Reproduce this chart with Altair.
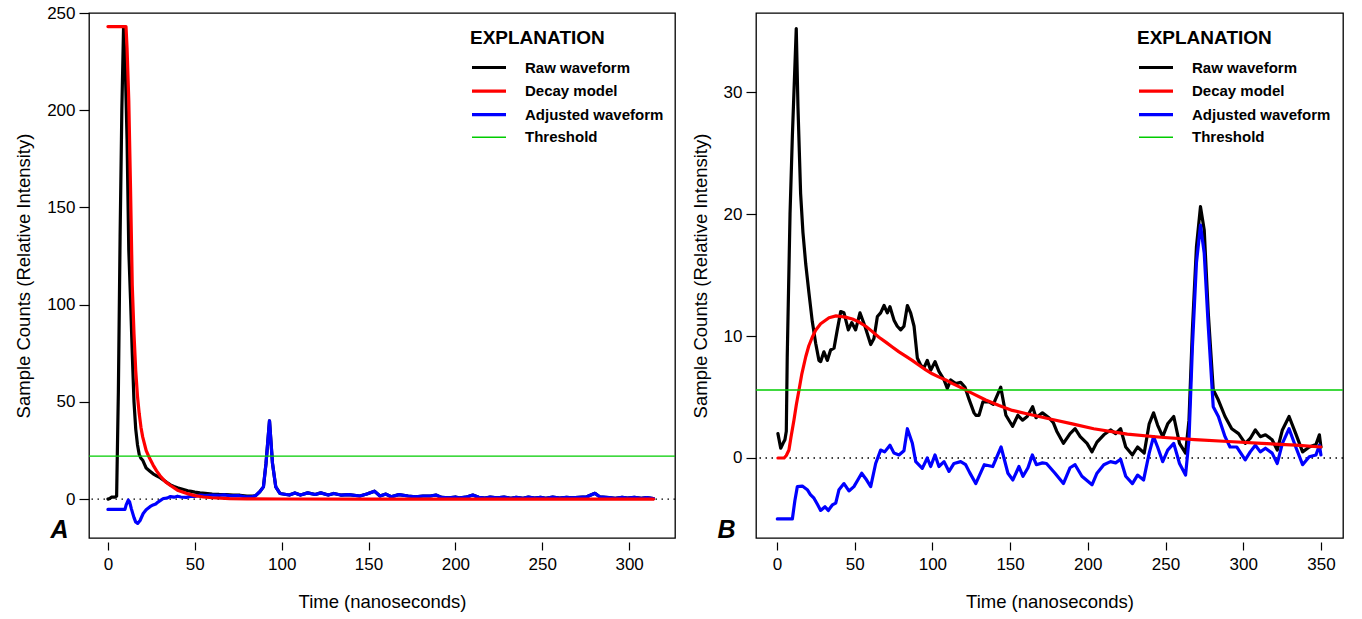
import altair as alt
import pandas as pd

SERIES = ["Raw waveform", "Decay model", "Adjusted waveform", "Threshold"]
COLORS = ["#000000", "#FF0000", "#0000FF", "#00CC00"]
WIDTHS = [3.2, 3.2, 3.2, 1.4]
FONT = "Liberation Sans"

# ---------------- Panel A ----------------
A_adj_t = [0, 9.8, 10.5, 11.7, 12.5, 13.5, 15, 16, 17.1, 18.5, 20.3, 22, 24.2, 26, 27.5, 29, 31.9, 34, 36, 38,
           40, 42, 45, 48, 50, 53.5, 56, 60, 64, 67, 70.6, 75, 79, 83,
           85, 87.4, 89.5, 91, 93, 94.7, 96.6, 99, 104.4, 107.6, 110.8, 115, 119.3, 122.5, 126.8, 130, 134,
           138.5, 145, 149, 153.4, 156.6, 160, 163, 167.5, 172.8, 177, 181.3, 185.6, 188.8, 192, 196.3, 200,
           202.7, 206, 210, 213.4, 217, 220, 224, 228, 232, 235, 239, 242, 245.6, 249, 252, 256, 260, 264, 267,
           271, 275.6, 280.3, 283, 288.4, 292, 296, 299, 303, 307, 310, 314]
A_adj_v = [-5.3, -5.3, -3.0, -0.5, -1.5, -5.0, -9.5, -11.8, -12.5, -11.0, -7.4, -5.5, -3.9, -3.0, -2.5, -1.4, 0.3, 0.5, 1.3, 1.0,
           1.5, 1.1, 0.9, 1.5, 1.4, 2.1, 1.8, 2.1, 1.9, 2.2, 1.7, 1.8, 1.2, 1.2,
           1.8, 3.8, 6.3, 18.5, 40.3, 18.5, 6.3, 2.9, 2.1, 3.2, 2.1, 3.2, 2.4, 3.2, 2.1, 2.9, 2.1,
           2.3, 1.6, 2.6, 4.1, 1.6, 2.6, 1.2, 2.3, 1.6, 1.2, 1.6, 1.6, 2.1, 0.9, 0.7, 1.1,
           0.6, 1.0, 2.1, 0.9, 0.5, 1.0, 0.6, 1.0, 0.4, 0.9, 0.4, 1.0, 0.5, 0.9, 0.4, 1.0, 0.5, 0.9, 0.6,
           0.9, 1.2, 3.0, 1.2, 0.8, 0.4, 0.9, 0.5, 0.9, 0.4, 0.8, 0.3]

A_raw_t = [0, 1, 2, 3, 4, 5, 6, 7, 8, 9, 10, 11, 12, 13, 14, 15, 16, 17, 18, 19, 20, 21, 22, 24, 26, 28, 30,
           32, 34, 36, 38, 40, 42, 44, 46, 48, 50, 53, 56, 60, 64, 68, 72, 76, 80, 84]
A_raw_v = [0, 0.3, 1, 1, 1, 1.5, 55, 135, 200, 243, 222, 185, 128, 103, 75, 50, 36, 28, 23, 21, 20, 18, 16, 14.5,
           13, 12, 11, 9.8, 8.5, 7.3, 6.5, 5.8, 5.3, 4.8, 4.3, 4.0, 3.6, 3.2, 3.0, 2.6, 2.4, 2.3, 2.1, 2.0, 1.6, 1.5]
# beyond ~85 ns the raw waveform coincides with the adjusted one (model ~ 0)
A_raw_t = A_raw_t + [t for t in A_adj_t if t >= 85]
A_raw_v = A_raw_v + [v for t, v in zip(A_adj_t, A_adj_v) if t >= 85]

A_mod_t = [0, 10.4, 11, 12, 13, 14, 15, 16, 17, 18, 19, 20, 22, 24, 26, 28, 30, 33, 36, 40, 45, 50, 55, 60,
           70, 80, 100, 150, 314]
A_mod_v = [243, 243, 232, 205, 160, 110, 85, 66, 53, 44, 37, 32, 25, 21, 17.5, 14.5, 12, 9, 7, 4.6, 3, 1.8, 1.1,
           0.7, 0.3, 0.15, 0.05, 0, 0]
A_threshold = 22.1

# ---------------- Panel B ----------------
B_raw_t = [0.6, 2.4, 3.9, 5.1, 6, 6.6, 8.4, 9.9, 12.4, 13.5, 15.2, 16.7, 18.5, 20.6, 22.7, 24.9, 27, 28.1, 30.2,
           32.4, 34.5, 36.7, 38.8, 41, 43.1, 45.9, 48.1, 50.6, 53.4, 56.6, 60.3, 62.4, 64.6, 66.7, 68.9, 71, 72.7,
           75.3, 77.4, 79.6, 81.7, 83.9, 86, 88.2, 90.3, 92.5, 94.6, 96.7, 98.9, 101.7, 104.2, 107.5, 109.6, 111.8,
           115, 118.2, 121, 123.6, 126.8, 128, 130, 132.5, 136.4, 139.2, 144, 147.3, 151.6, 155, 158, 161, 164.5,
           166.7, 170.8, 175, 177.8, 180, 184.3, 188.6, 191.8, 195.1, 199.5, 202.7, 205.9, 210.3, 214.6, 217.9,
           221.1, 224.4, 228.7, 232, 236.3, 239.5, 242.3, 244.9, 248.2, 251.4, 255.3, 259, 262.9, 265.1, 267.3,
           269.9, 272.5, 274.9, 277.5, 280.7, 284, 288.3, 292.6, 297, 301.3, 304.5, 307.8, 311, 314.3, 318.6,
           321.9, 325.2, 329.5, 333.8, 338.2, 342.5, 346.8, 349, 350]
B_raw_v = [2.0, 0.8, 1.2, 1.5, 2.2, 8.3, 20, 26.4, 35.2, 28.8, 21.7, 18.5, 15.9, 13.5, 11.2, 9.4, 8.0, 7.9, 8.7,
           8.0, 8.85, 9.0, 10.5, 12.0, 11.9, 10.5, 11.1, 10.5, 11.9, 10.8, 9.3, 9.8, 11.6, 11.9, 12.5, 11.9, 12.4,
           11.3, 10.8, 10.5, 10.8, 12.5, 11.9, 10.8, 8.2, 7.6, 7.4, 8.0, 7.2, 7.9, 7.1, 6.4, 5.7, 6.4,
           6.1, 6.2, 5.8, 4.8, 3.7, 3.5, 3.5, 4.6, 4.6, 4.4, 5.8, 3.5, 2.6, 3.5, 3.1, 3.4, 4.2,
           3.3, 3.7, 3.3, 2.9, 2.2, 1.2, 2.0, 2.4, 1.75, 1.2, 0.5, 1.3, 1.9, 2.3, 2.0,
           2.4, 0.9, 0.25, 0.9, 0.4, 2.8, 3.7, 2.7, 1.75, 2.8, 3.4, 1.2, 0.4, 3.1, 10.5,
           17.3, 20.6, 18.7, 11.9, 5.6, 4.75, 3.4, 2.4, 2.0, 1.2, 1.6, 2.3, 1.75, 1.9, 1.5,
           0.65, 2.3, 3.4, 2.0, 0.5, 0.9, 1.1, 1.9, 0.9]

B_mod_t = [0.6, 4.6, 6, 7.7, 9, 10.9, 12.5, 14.2, 16, 18.5, 20.5, 22.7, 25, 28.1, 33.5, 38, 41, 44, 48.5, 52,
           57.1, 61, 65.6, 70, 74.2, 78.5, 82.8, 87, 91.4, 95.5, 99.9, 104, 108.6, 113, 117.1, 125.7, 134.3,
           142.9, 151.4, 160, 168.6, 177.2, 190, 203.8, 225.4, 247, 268.8, 290.4, 312, 333.8, 350]
B_mod_v = [0, 0, 0.2, 0.65, 1.7, 3.1, 4.4, 5.6, 6.9, 8.3, 9.2, 9.9, 10.5, 11.0, 11.5, 11.65, 11.6, 11.55, 11.4,
           11.2, 10.8, 10.4, 9.9, 9.5, 9.1, 8.7, 8.35, 8.0, 7.6, 7.25, 6.9, 6.65, 6.4, 6.1, 5.85, 5.3, 4.75,
           4.3, 3.9, 3.65, 3.4, 3.15, 2.8, 2.4, 1.95, 1.7, 1.5, 1.35, 1.2, 1.05, 0.9]

B_adj_t = [0.2, 9.9, 11.5, 13.1, 16.3, 19.5, 21.5, 23.8, 26, 28.1, 30.9, 33, 35.6, 37.8, 39.9, 43.1, 46.3, 49.5,
           52, 54.5, 57.1, 60.3, 63.5, 66.7, 69.3, 72.7, 75.3, 78.5, 81.7, 83.9, 87.1, 89.3, 93.5, 96.7, 98.9,
           101.7, 104.2, 107.5, 110.7, 113.9, 118.2, 121.4, 124, 127.9, 133.4, 138.8, 144.2, 148.6, 151.8, 155.7,
           158.3, 161.5, 164.3, 166.9, 170.8, 173.4, 178.9, 184.3, 188.6, 191.8, 196.2, 202.7, 205.9, 210.3,
           214.6, 217.9, 221.1, 224.4, 228.7, 232, 235.9, 239.5, 242.3, 244.9, 248.2, 251.4, 255.3, 259, 262.9,
           265.1, 267.3, 269.9, 272.5, 274.9, 277.5, 280.7, 284, 288.3, 291.5, 295.9, 301.3, 304.5, 307.8, 311,
           314.3, 318.6, 321.9, 325.2, 329.5, 333.8, 338.2, 342.5, 346.8, 349, 350]
B_adj_v = [-5.0, -5.0, -3.5, -2.35, -2.3, -2.6, -3.0, -3.3, -3.8, -4.3, -4.0, -4.3, -3.85, -3.7, -2.6, -2.1, -2.7,
           -2.35, -1.8, -1.25, -1.7, -2.35, -0.45, 0.65, 0.5, 1.05, 0.4, 0.25, 0.6, 2.4, 1.2, -0.3, -0.85, 0.0,
           -0.7, 0.25, -0.7, -0.3, -1.1, -0.45, -0.3, -0.55, -1.2, -2.1, -0.55, -0.7, 0.9, -1.25, -1.8, -0.7,
           -1.5, -0.8, 0.25, -0.55, -0.4, -0.45, -1.25, -2.1, -0.8, -0.55, -1.5, -2.2, -1.25, -0.55,
           -0.3, -0.4, -0.1, -1.5, -2.1, -1.4, -1.8, 0.4, 1.75, 0.9, -0.3, 0.65, 1.2, -0.45, -1.4,
           1.5, 9.1, 16.0, 19.1, 16.8, 10.8, 4.2, 3.4, 1.75, 0.9, 0.9, -0.15, 0.5, 1.05, 0.5,
           0.8, 0.4, -0.45, 1.2, 2.4, 0.9, -0.55, 0.1, 0.25, 1.05, 0.25]
B_threshold = 5.57


def frame(ts, vs, name):
    return pd.DataFrame({"t": ts, "v": vs, "series": name})


def panel(raw, mod, adj, thr, xdom, ydom, xticks, yticks, letter, w, h):
    xs = alt.Scale(domain=xdom, nice=False, zero=False)
    ys = alt.Scale(domain=ydom, nice=False, zero=False)
    xax = alt.Axis(values=xticks, title="Time (nanoseconds)", domain=False, grid=False, offset=4,
                   tickSize=8, labelPadding=6, titlePadding=20)
    yax = alt.Axis(values=yticks, title="Sample Counts (Relative Intensity)", domain=False, grid=False,
                   tickSize=10, labelPadding=4, titlePadding=13)
    leg = alt.Legend(title="EXPLANATION", orient="none", legendX=381, legendY=16,
                     symbolType="M-1,0H3", symbolSize=289, labelOffset=34, rowPadding=4.6,
                     titleFontSize=19, titleFontWeight="bold", titleFont=FONT, titlePadding=9,
                     labelFontSize=15, labelFontWeight="bold", labelFont=FONT, labelColor="#000000",
                     titleColor="#000000", symbolOpacity=1)
    color = alt.Color("series:N", scale=alt.Scale(domain=SERIES, range=COLORS), legend=leg)
    sw = alt.StrokeWidth("series:N", scale=alt.Scale(type="ordinal", domain=SERIES, range=WIDTHS), legend=leg)

    def line(df):
        return alt.Chart(df).mark_line(strokeCap="round", strokeJoin="round").encode(
            x=alt.X("t:Q", scale=xs, axis=xax),
            y=alt.Y("v:Q", scale=ys, axis=yax),
            color=color, strokeWidth=sw, order="t:Q")

    zero = alt.Chart(pd.DataFrame({"v": [0]})).mark_rule(
        color="#000000", strokeDash=[1.5, 4.5], strokeWidth=1.3).encode(y=alt.Y("v:Q", scale=ys, axis=yax))
    thr_rule = alt.Chart(pd.DataFrame({"v": [thr], "series": ["Threshold"]})).mark_rule().encode(
        y=alt.Y("v:Q", scale=ys, axis=yax), color=color, strokeWidth=sw)
    lab = alt.Chart(pd.DataFrame({"lab": [letter]})).mark_text(
        fontSize=25, fontWeight="bold", fontStyle="italic", font=FONT, align="center",
        baseline="alphabetic", color="#000000").encode(
        text="lab:N", x=alt.value(-29.5), y=alt.value(h))
    return alt.layer(zero, line(raw), line(adj), line(mod), thr_rule, lab).properties(width=w, height=h)


pA = panel(frame(A_raw_t, A_raw_v, "Raw waveform"), frame(A_mod_t, A_mod_v, "Decay model"),
           frame(A_adj_t, A_adj_v, "Adjusted waveform"), A_threshold,
           [-10.9, 326.4], [-20, 250], [0, 50, 100, 150, 200, 250, 300], [0, 50, 100, 150, 200, 250], "A",
           586, 525)
pB = panel(frame(B_raw_t, B_raw_v, "Raw waveform"), frame(B_mod_t, B_mod_v, "Decay model"),
           frame(B_adj_t, B_adj_v, "Adjusted waveform"), B_threshold,
           [-13.5, 364.2], [-6.56, 36.48], [0, 50, 100, 150, 200, 250, 300, 350], [0, 10, 20, 30], "B",
           587, 525)

chart = alt.hconcat(pA, pB, spacing=13).resolve_scale(
    x="independent", y="independent", color="independent", strokeWidth="independent"
).properties(
    padding={"left": 13, "top": 3, "right": 5, "bottom": 5}, background="#FFFFFF"
).configure_view(stroke="#000000", strokeWidth=1.3).configure_axis(
    labelFont=FONT, titleFont=FONT, labelFontSize=17, titleFontSize=18.5, labelColor="#000000",
    titleColor="#000000", tickColor="#000000", tickWidth=1.2, titleFontWeight="normal"
)

chart.save("out.html", embed_options={"renderer": "svg", "actions": False})
